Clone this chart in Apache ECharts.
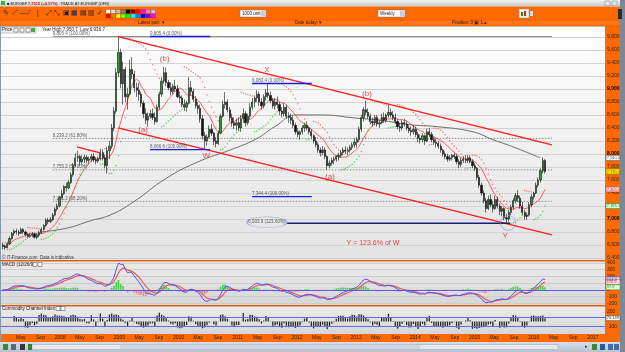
<!DOCTYPE html>
<html>
<head>
<meta charset="utf-8">
<title>EURGBP weekly</title>
<script src="https://cdn.jsdelivr.net/npm/echarts@6.0.0/dist/echarts.min.js"></script>
<style>
  html, body { margin: 0; padding: 0; background: #fff; }
  #main { width: 625px; height: 352px; }
</style>
</head>
<body>
<div id="main"></div>
<script>
// prices in points (1 pt = 0.0001)
var monthNames = ['', 'May', 'Sep'];
var startDay = 4;    // first candle 5 Jan 2007 (days after 1 Jan 2007)
var stepDays = 14;   // one candle = two weeks

// [open, high, low, close]
var y2007 = [
  [6600,6640,6540,6580],[6580,6610,6530,6560],[6560,6650,6550,6620],[6620,6730,6600,6700],
  [6700,6800,6680,6780],[6780,6840,6740,6810],[6810,6850,6760,6800],[6800,6830,6740,6780],
  [6780,6870,6770,6840],[6840,6860,6770,6800],[6800,6820,6730,6760],[6760,6790,6700,6730],
  [6730,6780,6710,6750],[6750,6800,6720,6770],[6770,6790,6700,6720],[6720,6780,6690,6750],
  [6750,6820,6720,6790],[6790,6870,6770,6840],[6840,6920,6820,6900],[6900,7010,6880,6980],
  [6980,7020,6920,6960],[6960,7030,6940,6990],[6990,7090,6970,7060],[7060,7180,7040,7150],
  [7150,7240,7120,7200],[7200,7350,7180,7330]
];
var y2008 = [
  [7330,7450,7300,7390],[7390,7520,7370,7500],[7500,7560,7420,7480],[7480,7600,7460,7560],
  [7560,7720,7540,7680],[7680,7860,7650,7820],[7820,8010,7800,7940],[7940,8050,7880,7960],
  [7960,7990,7820,7880],[7880,7980,7840,7920],[7920,7990,7860,7950],[7950,7980,7860,7900],
  [7900,7960,7850,7920],[7920,8000,7880,7960],[7960,8010,7880,7910],[7910,7950,7840,7890],
  [7890,7960,7860,7930],[7930,8080,7900,8020],[8020,8070,7900,7940],[7940,7990,7780,7820],
  [7820,8110,7700,8050],[8050,8200,7920,8120],[8120,8460,8080,8400],[8400,8720,8350,8660],
  [8660,9320,8620,9250],[9250,9805,9180,9560]
];
var y2009 = [
  [9560,9620,9010,9080],[9080,9420,8760,9300],[9300,9340,8800,8880],[8880,9020,8680,8920],
  [8920,9450,8900,9300],[9300,9490,9150,9230],[9230,9280,8950,9020],[9020,9100,8880,8980],
  [8980,9090,8820,8920],[8920,8960,8720,8780],[8780,8820,8550,8620],[8620,8700,8460,8520],
  [8520,8640,8420,8580],[8580,8680,8540,8620],[8620,8700,8520,8560],[8560,8640,8450,8500],
  [8500,8760,8480,8720],[8720,8960,8680,8920],[8920,9180,8880,9120],[9120,9340,9080,9250],
  [9250,9330,9040,9100],[9100,9140,8980,9020],[9020,9100,8900,8960],[8960,9080,8920,9040],
  [9040,9140,8960,9000],[9000,9060,8860,8880]
];
var y2010 = [
  [8880,8960,8780,8860],[8860,8900,8720,8760],[8760,8840,8660,8720],[8720,8820,8650,8780],
  [8780,9180,8760,9020],[9020,9120,8900,8960],[8960,9000,8800,8840],[8840,8890,8700,8740],
  [8740,8800,8620,8700],[8700,8760,8480,8540],[8540,8600,8220,8280],[8280,8340,8066,8200],
  [8200,8300,8130,8260],[8260,8440,8240,8380],[8380,8460,8280,8320],[8320,8340,8140,8200],
  [8200,8260,8100,8160],[8160,8360,8140,8320],[8320,8620,8300,8580],[8580,8820,8560,8760],
  [8760,8950,8700,8800],[8800,8840,8640,8680],[8680,8720,8500,8560],[8560,8620,8420,8480],
  [8480,8560,8380,8440],[8440,8540,8360,8480]
];
var y2011 = [
  [8480,8560,8360,8400],[8400,8600,8340,8540],[8540,8700,8480,8620],[8620,8660,8420,8480],
  [8480,8620,8440,8580],[8580,8780,8540,8720],[8720,8860,8680,8800],[8800,8900,8720,8860],
  [8860,8980,8800,8920],[8920,8960,8740,8800],[8800,8860,8680,8740],[8740,8920,8700,8880],
  [8880,9000,8820,8940],[8940,9083,8860,8900],[8900,8960,8780,8820],[8820,8860,8700,8740],
  [8740,8860,8680,8800],[8800,8880,8700,8760],[8760,8800,8600,8660],[8660,8720,8560,8620],
  [8620,8780,8580,8720],[8720,8760,8540,8580],[8580,8640,8480,8560],[8560,8620,8460,8520],
  [8520,8580,8400,8440],[8440,8480,8300,8340]
];
var y2012 = [
  [8340,8400,8260,8300],[8300,8360,8220,8340],[8340,8440,8300,8400],[8400,8480,8340,8440],
  [8440,8500,8360,8400],[8400,8420,8300,8340],[8340,8380,8240,8280],[8280,8300,8160,8200],
  [8200,8260,8100,8140],[8140,8180,8020,8060],[8060,8100,7960,8020],[8020,8120,7980,8060],
  [8060,8100,7920,7960],[7960,7980,7755,7820],[7820,7900,7780,7860],[7860,7940,7820,7900],
  [7900,7960,7840,7920],[7920,7980,7880,7960],[7960,8020,7900,7980],[7980,8060,7940,8020],
  [8020,8100,7980,8060],[8060,8120,8000,8040],[8040,8100,7980,8060],[8060,8140,8020,8100],
  [8100,8180,8060,8140],[8140,8240,8100,8180]
];
var y2013 = [
  [8180,8260,8100,8220],[8220,8420,8180,8380],[8380,8600,8340,8560],[8560,8720,8500,8680],
  [8680,8820,8600,8640],[8640,8700,8540,8580],[8580,8620,8460,8500],[8500,8560,8420,8480],
  [8480,8600,8440,8560],[8560,8600,8420,8460],[8460,8520,8400,8480],[8480,8620,8460,8560],
  [8560,8640,8480,8520],[8520,8620,8480,8600],[8600,8760,8560,8640],[8640,8700,8560,8600],
  [8600,8660,8520,8560],[8560,8620,8460,8500],[8500,8540,8380,8420],[8420,8480,8340,8400],
  [8400,8520,8360,8480],[8480,8540,8420,8460],[8460,8500,8360,8400],[8400,8440,8320,8360],
  [8360,8420,8280,8340],[8340,8440,8300,8380]
];
var y2014 = [
  [8380,8420,8260,8300],[8300,8340,8180,8240],[8240,8300,8160,8220],[8220,8320,8180,8280],
  [8280,8300,8140,8200],[8200,8380,8180,8340],[8340,8400,8260,8300],[8300,8340,8180,8220],
  [8220,8260,8140,8180],[8180,8240,8100,8160],[8160,8200,8080,8120],[8120,8160,8020,8060],
  [8060,8080,7960,8000],[8000,8040,7920,7960],[7960,8000,7880,7920],[7920,7980,7890,7940],
  [7940,8000,7900,7980],[7980,8020,7920,7960],[7960,8000,7840,7880],[7880,7920,7780,7840],
  [7840,7940,7800,7900],[7900,7960,7860,7920],[7920,7980,7860,7900],[7900,7980,7860,7940],
  [7940,7980,7860,7880],[7880,7920,7780,7820]
];
var y2015 = [
  [7820,7860,7740,7780],[7780,7800,7600,7640],[7640,7680,7480,7520],[7520,7560,7360,7400],
  [7400,7440,7240,7280],[7280,7320,7100,7160],[7160,7360,7140,7300],[7300,7380,7180,7220],
  [7220,7280,7100,7160],[7160,7360,7140,7300],[7300,7340,7160,7200],[7200,7240,7060,7120],
  [7120,7200,7040,7160],[7160,7180,6980,7020],[7020,7080,6936,7000],[7000,7140,6960,7100],
  [7100,7220,7060,7180],[7180,7320,7140,7280],[7280,7400,7240,7360],[7360,7440,7260,7320],
  [7320,7360,7160,7200],[7200,7260,7060,7100],[7100,7140,6990,7040],[7040,7100,6990,7060],
  [7060,7260,7040,7220],[7220,7380,7180,7340]
];
var y2016 = [
  [7340,7420,7300,7400],[7400,7560,7380,7520],[7520,7640,7480,7600],[7600,7780,7560,7740],
  [7740,7950,7700,7900],[7900,7920,7700,7730]
];

// long grey moving average, [month index since Jan 2007, value]
var longMa = [
  [7.9,6800],[13.4,6860],[18.0,6970],[22.1,7060],[26.8,7260],[33.6,7630],[40.3,7890],
  [46.4,8060],[51.7,8230],[55.5,8420],[60.0,8600],[64.7,8600],[72.2,8550],[76.8,8520],
  [82.9,8450],[88.4,8420],[95.7,8340],[99.7,8220],[103.8,8110],[109.3,7940]
];

// hand-drawn channel lines [[month, value], [month, value]]
var redLines = [
  [[23.7, 9805], [111.7, 8139]],
  [[23.7, 8400], [111.7, 6755]],
  [[15.4, 8108], [20.1, 8016]]
];
// fibonacci retracement levels: value, from month, to month, label
var fibLevels = [
  [9805.4, 10.5, 111.7, '9,805.4 (100.00%)'],
  [8239.2, 10.5, 111.7, '8,239.2 (61.80%)'],
  [7755.2, 10.5, 111.7, '7,755.2 (50.00%)'],
  [7271.2, 10.5, 111.7, '7,271.2 (38.20%)']
];
// projection levels (blue)
var projLevels = [
  [9805.4, 30.2, 42.4, '9,805.4 (0.00%)'],
  [8066.6, 30.2, 42.4, '8,066.6 (100.00%)'],
  [9083.4, 50.9, 63.0, '9,083.4 (0.00%)'],
  [7344.4, 50.9, 63.0, '7,344.4 (100.00%)']
];
var targetLevel = [6933.9, 58.0, 103.2, '6,933.9 (123.60%)'];
var targetLabelAt = [53.9, 6950];
var yLowAt = [102.8, 6939];

var waveLabels = [
  ['(b)', 33.2, 9462], ['(a)', 28.8, 8370], ['W', 41.6, 7970], ['X', 53.9, 9292],
  ['(b)', 74.2, 8923], ['(a)', 66.7, 7647], ['Y', 102.2, 6739]
];
var noteLabel = ['Y = 123.6% of W', 75.4, 6631];

// ---------------------------------------------------------------
var FONT = 'Liberation Sans, Arial, sans-serif';
var rows = [].concat(y2007, y2008, y2009, y2010, y2011, y2012, y2013, y2014, y2015, y2016);
var mx = [], opens = [], highs = [], lows = [], closes = [];
rows.forEach(function (r, i) {
  mx.push((startDay + stepDays * i + stepDays / 2) / 30.4375);
  opens.push(r[0]); highs.push(r[1]); lows.push(r[2]); closes.push(r[3]);
});
var candleData = rows.map(function (r, i) { return [mx[i], r[0], r[3], r[2], r[1]]; });

function sma(arr, n) {
  return arr.map(function (v, i) {
    var s = 0, c = 0;
    for (var k = Math.max(0, i - n + 1); k <= i; k++) { s += arr[k]; c++; }
    return s / c;
  });
}
function ema(arr, n) {
  var a = 2 / (n + 1), out = [], e = arr[0];
  arr.forEach(function (v) { e = a * v + (1 - a) * e; out.push(e); });
  return out;
}
// parabolic SAR
function psar(h, l, step, max) {
  var out = [{ v: l[0], up: true }], up = true, af = step, ep = h[0], s = l[0];
  for (var i = 1; i < h.length; i++) {
    s = s + af * (ep - s);
    if (up) {
      s = Math.min(s, l[i - 1], l[Math.max(0, i - 2)]);
      if (l[i] < s) { up = false; s = ep; ep = l[i]; af = step; }
      else if (h[i] > ep) { ep = h[i]; af = Math.min(af + step, max); }
    } else {
      s = Math.max(s, h[i - 1], h[Math.max(0, i - 2)]);
      if (h[i] > s) { up = true; s = ep; ep = h[i]; af = step; }
      else if (l[i] < ep) { ep = l[i]; af = Math.min(af + step, max); }
    }
    out.push({ v: s, up: up });
  }
  return out;
}
function cci(h, l, c, n) {
  var tp = c.map(function (v, i) { return (h[i] + l[i] + v) / 3; });
  return tp.map(function (v, i) {
    if (i < n - 1) return 0;
    var s = 0, k;
    for (k = i - n + 1; k <= i; k++) s += tp[k];
    var m = s / n, d = 0;
    for (k = i - n + 1; k <= i; k++) d += Math.abs(tp[k] - m);
    d = d / n;
    return d ? (v - m) / (0.015 * d) : 0;
  });
}

var maRed = sma(closes, 10);
var sar = psar(highs, lows, 0.02, 0.2);
var e12 = ema(closes, 6), e26 = ema(closes, 13);
var macd = e12.map(function (v, i) { return v - e26[i]; });
var signal = ema(macd, 5);
var hist = macd.map(function (v, i) { return v - signal[i]; });
var cciVals = cci(highs, lows, closes, 6);

function fmt(v, d) {
  var p = v.toFixed(d || 0).split('.');
  p[0] = p[0].replace(/\B(?=(\d{3})+(?!\d))/g, ',');
  return p.join('.');
}
function pairs(a) { return a.map(function (v, i) { return [mx[i], v]; }); }

var series = [];
series.push({
  type: 'candlestick', xAxisIndex: 0, yAxisIndex: 0, data: candleData,
  encode: { x: 0, y: [1, 2, 3, 4] }, barWidth: 1.7, z: 5,
  itemStyle: { color: '#2f9a2f', color0: '#111', borderColor: '#111', borderColor0: '#111', borderWidth: 0.6 }
});
series.push({ type: 'line', xAxisIndex: 0, yAxisIndex: 0, data: pairs(maRed), symbol: 'none',
  lineStyle: { color: '#ff3a3a', width: 0.8 }, z: 4 });
series.push({ type: 'line', xAxisIndex: 0, yAxisIndex: 0, data: longMa, symbol: 'none', smooth: true,
  lineStyle: { color: '#6e6e6e', width: 1 }, z: 3 });
series.push({ type: 'scatter', xAxisIndex: 0, yAxisIndex: 0, symbolSize: 1.5, z: 4,
  data: sar.map(function (p, i) { return p.up ? [mx[i], p.v] : null; }).filter(Boolean),
  itemStyle: { color: '#2ecc2e' } });
series.push({ type: 'scatter', xAxisIndex: 0, yAxisIndex: 0, symbolSize: 1.5, z: 4,
  data: sar.map(function (p, i) { return p.up ? null : [mx[i], p.v]; }).filter(Boolean),
  itemStyle: { color: '#ff5a5a' } });

redLines.forEach(function (ln) {
  series.push({ type: 'line', xAxisIndex: 0, yAxisIndex: 0, data: ln, symbol: 'none', z: 6,
    lineStyle: { color: '#ff1a1a', width: 1.3 } });
});
fibLevels.forEach(function (lv, k) {
  series.push({ type: 'line', xAxisIndex: 0, yAxisIndex: 0, data: [[lv[1], lv[0]], [lv[2], lv[0]]], symbol: 'none', z: 2,
    lineStyle: k === 0 ? { color: '#8a8a8a', width: 1 } : { color: '#8a8a8a', width: 1, type: [1.5, 1.5] } });
});
projLevels.forEach(function (lv) {
  series.push({ type: 'line', xAxisIndex: 0, yAxisIndex: 0, data: [[lv[1], lv[0]], [lv[2], lv[0]]], symbol: 'none', z: 6,
    lineStyle: { color: '#1a1aff', width: 1.4 } });
});
series.push({ type: 'line', xAxisIndex: 0, yAxisIndex: 0,
  data: [[targetLevel[1], targetLevel[0]], [targetLevel[2], targetLevel[0]]], symbol: 'none', z: 6,
  lineStyle: { color: '#14207a', width: 1.4 } });

var levelText = fibLevels.concat(projLevels).map(function (lv) {
  return { name: lv[3], value: [lv[1], lv[0]] };
});
series.push({ type: 'scatter', xAxisIndex: 0, yAxisIndex: 0, symbolSize: 0, z: 7, data: levelText,
  label: { show: true, formatter: '{b}', position: [0, -5.5], fontSize: 4.5, fontFamily: FONT, color: '#333' } });
series.push({ type: 'scatter', xAxisIndex: 0, yAxisIndex: 0, z: 7, symbol: 'circle', symbolSize: [40, 11],
  data: [{ name: targetLevel[3], value: targetLabelAt }],
  itemStyle: { color: 'rgba(0,0,0,0)', borderColor: '#8c9ad6', borderWidth: 0.8 },
  label: { show: true, formatter: '{b}', position: 'inside', fontSize: 4.5, fontFamily: FONT, color: '#333' } });
series.push({ type: 'scatter', xAxisIndex: 0, yAxisIndex: 0, z: 7, symbol: 'circle', symbolSize: 15,
  data: [yLowAt], itemStyle: { color: 'rgba(0,0,0,0)', borderColor: '#8c9ad6', borderWidth: 0.8 } });
series.push({ type: 'scatter', xAxisIndex: 0, yAxisIndex: 0, symbolSize: 0, z: 8,
  data: waveLabels.map(function (w) { return { name: w[0], value: [w[1], w[2]] }; }),
  label: { show: true, formatter: '{b}', position: 'inside', fontSize: 8, fontFamily: FONT, color: '#e8141c' } });
series.push({ type: 'scatter', xAxisIndex: 0, yAxisIndex: 0, symbolSize: 0, z: 8,
  data: [{ name: noteLabel[0], value: [noteLabel[1], noteLabel[2]] }],
  label: { show: true, formatter: '{b}', position: 'inside', fontSize: 7, fontFamily: FONT, color: '#e8141c' } });

// MACD
series.push({ type: 'bar', xAxisIndex: 1, yAxisIndex: 1, barWidth: 1.6, data: pairs(hist),
  itemStyle: { color: function (p) { return p.value[1] >= 0 ? '#3fd24a' : '#f08a8a'; } },
  markLine: { silent: true, symbol: 'none', label: { show: false },
    lineStyle: { color: '#5a5af0', width: 1, type: 'solid' }, data: [{ yAxis: 0 }] } });
series.push({ type: 'line', xAxisIndex: 1, yAxisIndex: 1, data: pairs(signal), symbol: 'none',
  lineStyle: { color: '#f25a5a', width: 1.2 } });
series.push({ type: 'line', xAxisIndex: 1, yAxisIndex: 1, data: pairs(macd), symbol: 'none',
  lineStyle: { color: '#5050ee', width: 1 } });
// CCI
series.push({ type: 'bar', xAxisIndex: 2, yAxisIndex: 2, barWidth: 1.3, data: pairs(cciVals),
  itemStyle: { color: '#2a2a2a' },
  markLine: { silent: true, symbol: 'none', label: { show: false },
    lineStyle: { color: '#6a6ae8', width: 1, type: 'solid' }, data: [{ yAxis: 100 }, { yAxis: -100 }] } });

function xAxisFor(idx, showLabels) {
  return {
    type: 'value', gridIndex: idx, min: 0, max: 122.45, interval: 4,
    axisLine: { show: false }, axisTick: { show: false }, splitLine: { show: false },
    axisLabel: {
      show: showLabels, margin: 4, fontSize: 5, fontFamily: FONT, color: '#222',
      showMinLabel: false, showMaxLabel: false,
      formatter: function (v) {
        var k = Math.round(v);
        if (Math.abs(v - k) > 0.01 || k % 4) return '';
        return k % 12 === 0 ? String(2007 + k / 12) : monthNames[(k % 12) / 4];
      }
    }
  };
}
function yAxisFor(idx, min, max, interval, fmtFn, splitColor) {
  return {
    type: 'value', gridIndex: idx, position: 'right', min: min, max: max, interval: interval,
    axisLine: { show: false }, axisTick: { show: false },
    splitLine: { show: !!splitColor, lineStyle: { color: splitColor, width: 1 } },
    axisLabel: { margin: 2, fontSize: 5, fontFamily: FONT, color: '#2a2a2a', showMaxLabel: idx !== 0,
      formatter: fmtFn, rich: { b: { fontSize: 5, fontWeight: 'bold', color: '#000', fontFamily: FONT } } }
  };
}

var LG = echarts.graphic.LinearGradient;
function rect(x, y, w, h, fill, z, extra) {
  var el = { type: 'rect', silent: true, z: z === undefined ? -10 : z, shape: { x: x, y: y, width: w, height: h }, style: { fill: fill } };
  if (extra) for (var k in extra) el.style[k] = extra[k];
  return el;
}
function txt(x, y, s, color, size, weight, z) {
  return { type: 'text', silent: true, z: z === undefined ? 20 : z, x: x, y: y,
    style: { text: s, fill: color || '#222', font: (weight || 'normal') + ' ' + (size || 5) + 'px ' + FONT, textVerticalAlign: 'middle' } };
}

var ORANGE = '#ff6a00';
var graphics = [
  // title bar
  rect(0, 0, 625, 6.5, new LG(0, 0, 0, 1, [{ offset: 0, color: '#f2f2f2' }, { offset: 1, color: '#c9c9c9' }]), 10),
  rect(1, 1, 4, 4, '#3cb043', 11),
  txt(7, 3.4, '■ EURGBP', '#222', 4, 'normal', 12),
  txt(28, 3.4, '7,7915 (+0.57%)', '#cc1111', 4, 'bold', 12),
  txt(60, 3.4, 'TRADE AT EURGBP (DFB)', '#222', 4, 'normal', 12),
  rect(605, 1, 5, 4.5, '#dfe3ea', 11, { stroke: '#8a8f99', lineWidth: 0.5 }),
  rect(612, 1, 5, 4.5, '#dfe3ea', 11, { stroke: '#8a8f99', lineWidth: 0.5 }),
  // orange toolbar
  rect(0, 6.5, 625, 13.5, ORANGE, 10),
  rect(0, 20, 620, 6, '#ff7414', 10, { stroke: '#d85400', lineWidth: 0.5 }),
  txt(138, 23, 'Latest pair: ▾', '#331100', 4.5, 'normal', 12),
  txt(295, 23, 'Date today: ▾', '#331100', 4.5, 'normal', 12),
  txt(452, 23, 'Position: 0 ▣ 1 ▴', '#331100', 4.5, 'normal', 12),
  // dropdowns
  rect(240, 10, 26, 7, '#ffffff', 11, { stroke: '#7a7a7a', lineWidth: 0.5 }),
  txt(242, 13.5, '1000 units', '#222', 4.5, 'normal', 12),
  rect(261, 10.5, 4.5, 6, '#c8d0e0', 12),
  rect(378, 10, 27, 7, '#ffffff', 11, { stroke: '#7a7a7a', lineWidth: 0.5 }),
  txt(380, 13.5, 'Weekly', '#222', 4.5, 'normal', 12),
  rect(400, 10.5, 4.5, 6, '#c8d0e0', 12),
  rect(519, 9, 10, 9, '#f4f4f4', 11, { stroke: '#888', lineWidth: 0.5 }),
  rect(521, 12, 2, 4, '#2a8a2a', 12), rect(524, 11, 2, 5, '#cc2222', 12),
  rect(530, 11, 3, 5, '#dddddd', 11),
  rect(618, 9, 4, 10, '#2a2a2a', 11),
  // right axis strip and edges
  rect(605, 20, 15, 322, ORANGE, -10),
  rect(620, 0, 5, 352, '#7c8898', 10),
  rect(0, 26, 1, 316, '#8a9aa8', 10),
  // main price panel background
  rect(1, 26, 604, 235, new LG(0, 0, 0, 1, [{ offset: 0, color: '#ffffff' }, { offset: 1, color: '#e2e2e2' }])),
  // indicator panels
  rect(1, 261, 604, 45, new LG(0, 0, 0, 1, [{ offset: 0, color: '#ececec' }, { offset: 1, color: '#d6d6d6' }])),
  rect(1, 306, 604, 28, new LG(0, 0, 0, 1, [{ offset: 0, color: '#ececec' }, { offset: 1, color: '#d6d6d6' }])),
  rect(1, 260, 604, 1.6, '#e0601a', 9),
  rect(1, 305, 604, 1.6, '#e0601a', 9),
  // x axis strip and bottom bar
  rect(0, 334, 620, 8, ORANGE, -10),
  rect(0, 342, 620, 10, new LG(0, 0, 0, 1, [{ offset: 0, color: '#d6dde8' }, { offset: 1, color: '#b8c2d0' }]), 10),
  rect(32, 344.5, 526, 5, '#e6e9ee', 11, { stroke: '#9aa3b0', lineWidth: 0.5 }),
  rect(120, 345, 300, 4, '#cfd5de', 12),
  txt(585, 347, '▸', '#333', 5, 'normal', 12),
  rect(592, 344, 5, 6, '#3a8a3a', 12), rect(600, 344, 5, 6, '#2a5a9a', 12),
  rect(608, 344, 5, 6, '#4a6aa8', 12), rect(614, 344, 5, 6, '#4a6aa8', 12),
  rect(3, 344, 5, 6, '#3a8a3a', 12), rect(11, 344, 5, 6, '#5a6a7a', 12),
  rect(20, 344, 5, 6, '#3a3a3a', 12), rect(28, 344, 4, 6, '#2a8a2a', 12),
  // panel captions
  rect(1, 27, 35, 6, '#eeeeee', 11, { stroke: '#9a9a9a', lineWidth: 0.5 }),
  txt(2, 30, 'Price', '#222', 4.5, 'normal', 12),
  rect(14, 28, 4, 4, '#ffffff', 12, { stroke: '#444', lineWidth: 0.5 }),
  rect(20, 28, 4, 4, '#ffffff', 12, { stroke: '#444', lineWidth: 0.5 }),
  rect(26, 28, 4, 4, '#ffffff', 12, { stroke: '#444', lineWidth: 0.5 }),
  rect(31, 28, 4, 4, '#3cb043', 12),
  txt(42, 30, 'Year High 7,950.7  Low 6,936.7', '#222', 4.5, 'normal', 12),
  txt(2, 258, '© IT-Finance.com  Data is indicative', '#333', 4.5, 'normal', 12),
  txt(2, 264.5, 'MACD (12/26/9)', '#222', 4.5, 'normal', 12),
  rect(33, 262.5, 4, 4, '#ffffff', 12, { stroke: '#444', lineWidth: 0.5 }),
  rect(38, 262.5, 4, 4, '#ffffff', 12, { stroke: '#444', lineWidth: 0.5 }),
  txt(2, 308.5, 'Commodity Channel Index (8)', '#222', 4.5, 'normal', 12),
  rect(56, 306.5, 4, 4, '#ffffff', 12, { stroke: '#444', lineWidth: 0.5 }),
  rect(61, 306.5, 4, 4, '#ffffff', 12, { stroke: '#444', lineWidth: 0.5 })
];

// tool icons on the orange toolbar
var toolGlyphs = ['✎', '⟋', '—', '⁄', '|', '⤢', '⤡', '▣', '▦', '▤', '▥', '✓'];
toolGlyphs.forEach(function (g, k) {
  graphics.push(txt(3 + k * 8.5, 13.5, g, '#102050', 7, 'normal', 12));
});
var paletteColors = [
  ['#ffffff', '#e0e0e0', '#c0c0c0', '#808080', '#000000', '#800000', '#ff0000', '#ff00ff', '#ff80c0', '#c0c0ff'],
  ['#ff0000', '#ff8000', '#ffff00', '#80ff00', '#00ff00', '#00ffff', '#0080ff', '#0000ff', '#8000ff', '#ff00ff']
];
paletteColors.forEach(function (row, r) {
  row.forEach(function (c, k) {
    graphics.push(rect(106 + k * 5, 9.5 + r * 4.5, 4.5, 4, c, 12, { stroke: '#7a3a00', lineWidth: 0.3 }));
  });
});

var option = {
  animation: false,
  backgroundColor: '#ffffff',
  textStyle: { fontFamily: FONT },
  grid: [
    { left: 1, right: 20, top: 26, height: 232 },
    { left: 1, right: 20, top: 263, height: 40.2 },
    { left: 1, right: 20, top: 312, height: 19 }
  ],
  xAxis: [xAxisFor(0, false), xAxisFor(1, false), xAxisFor(2, true)],
  yAxis: [
    yAxisFor(0, 6400, 9968, 200, function (v) {
      var s = fmt(v);
      return (v % 1000 === 0) ? '{b|' + s + '}' : s;
    }, '#d3d3d3'),
    yAxisFor(1, -200, 400, 100, function (v) { return fmt(v); }, '#cdcdcd'),
    yAxisFor(2, -200, 200, 100, function (v) { return v === 0 ? '' : fmt(v); }, null)
  ],
  graphic: graphics,
  series: series
};

var chart = echarts.init(document.getElementById('main'), null, { renderer: 'canvas' });
chart.setOption(option);

// value boxes on the right axis
var last = rows.length - 1;
var boxes = [
  [0, longMa[longMa.length - 1][1], '#ffffff', '#555'],
  [0, closes[last], '#ffe800', '#7a6a00'],
  [0, sar[last].v, '#d8ffd8', '#2a8a2a'],
  [0, maRed[last], '#ffd8d8', '#cc2222'],
  [1, macd[last], '#d8dcff', '#3a3ad0'],
  [1, signal[last], '#ffdcdc', '#d03a3a'],
  [1, hist[last], '#dcffdc', '#2a9a2a'],
  [2, cciVals[last], '#ffffff', '#333']
];
boxes.forEach(function (b) {
  var py = chart.convertToPixel({ yAxisIndex: b[0] }, b[1]);
  graphics.push(rect(606, py - 2.5, 14, 5, b[2], 15, { stroke: b[3], lineWidth: 0.5 }));
  graphics.push(txt(606.8, py, fmt(b[1], b[0] === 2 ? 3 : 1), b[3], 4, 'normal', 16));
});
chart.setOption({ graphic: graphics });
</script>
</body>
</html>
